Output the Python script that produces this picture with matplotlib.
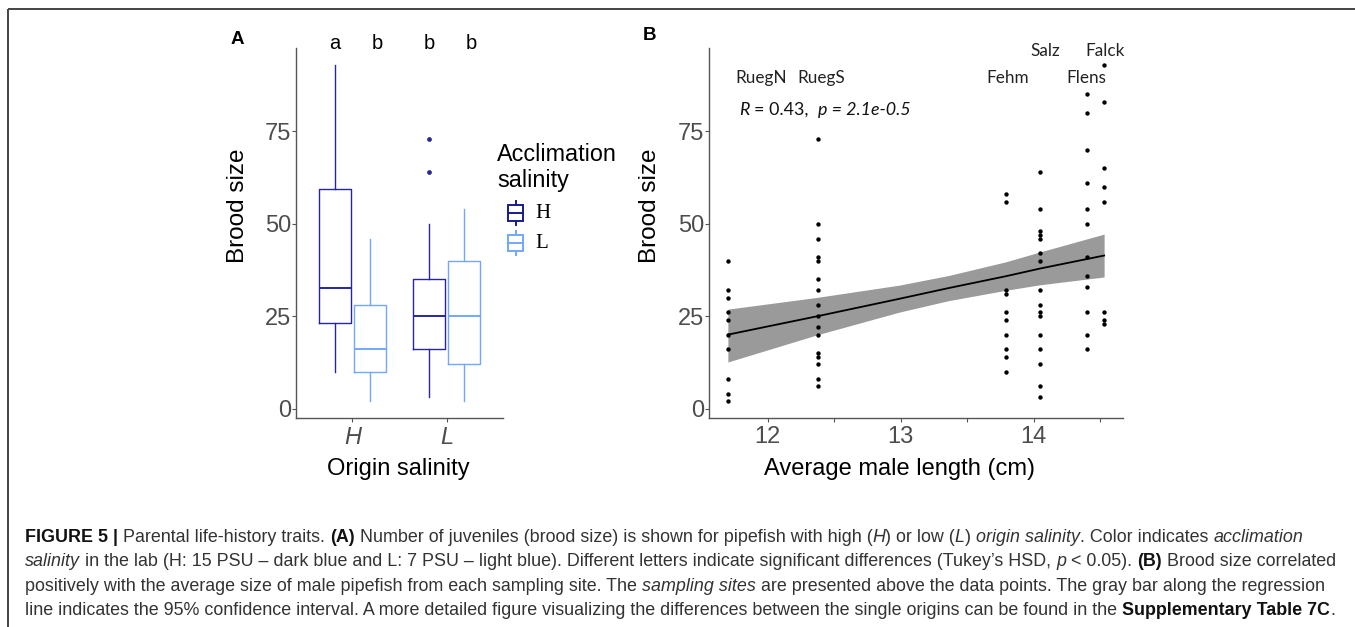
import numpy as np
import matplotlib
matplotlib.use("Agg")
import matplotlib.pyplot as plt
from matplotlib.font_manager import FontProperties

# ---------------- data ----------------
# Panel A: box statistics, order (origin, acclimation): (H,H), (H,L), (L,H), (L,L)
origin_levels = ["H", "L"]
acclim_levels = ["H", "L"]
box_q1 = [23.2, 10.0, 16.0, 12.0]
box_med = [32.6, 16.0, 25.0, 25.0]
box_q3 = [59.4, 28.0, 35.0, 40.0]
box_whislo = [10.0, 2.0, 3.0, 2.0]
box_whishi = [93.0, 46.0, 50.0, 54.0]
box_fliers = [[], [], [73.0, 64.0], []]
tukey_letters = ["a", "b", "b", "b"]

# Panel B: brood size per site vs. average male length
sites = ["RuegN", "RuegS", "Fehm", "Salz", "Flens", "Falck"]
site_length = [11.70, 12.375, 13.79, 14.05, 14.40, 14.53]
brood_ruegn = [40, 32, 30, 26, 24, 20, 16, 8, 4, 2]
brood_ruegs = [73, 50, 46, 41, 40, 35, 32, 28, 25, 22, 20, 15, 14, 12, 8, 6]
brood_fehm = [58, 56, 32, 31, 26, 24, 20, 16, 14, 10]
brood_salz = [64, 54, 48, 47, 46, 42, 40, 32, 28, 26, 25, 20, 16, 12, 6, 3]
brood_flens = [85, 80, 70, 61, 54, 50, 41, 36, 33, 26, 20, 16]
brood_falck = [93, 83, 65, 60, 56, 26, 24, 23]
# regression line and 95% CI
fit_x = [11.70, 12.375, 12.99, 13.36, 13.79, 14.05, 14.53]
fit_y = [20.0, 25.0, 29.7, 32.6, 35.8, 37.9, 41.4]
fit_lo = [12.6, 20.0, 26.1, 29.2, 32.0, 33.5, 35.6]
fit_hi = [26.9, 30.1, 33.4, 36.0, 39.7, 42.4, 47.2]
stat_R = "0.43"
stat_p = "2.1e-0.5"

caption_lines = [
    [("FIGURE 5 | ", "b"), ("Parental life-history traits. ", "r"), ("(A)", "b"),
     (" Number of juveniles (brood size) is shown for pipefish with high (", "r"), ("H", "i"),
     (") or low (", "r"), ("L", "i"), (") ", "r"), ("origin salinity", "i"),
     (". Color indicates ", "r"), ("acclimation", "i")],
    [("salinity", "i"),
     (" in the lab (H: 15 PSU \u2013 dark blue and L: 7 PSU \u2013 light blue). Different letters indicate "
      "significant differences (Tukey\u2019s HSD, ", "r"), ("p", "i"), (" < 0.05). ", "r"), ("(B)", "b"),
     (" Brood size correlated", "r")],
    [("positively with the average size of male pipefish from each sampling site. The ", "r"),
     ("sampling sites", "i"), (" are presented above the data points. The gray bar along the regression", "r")],
    [("line indicates the 95% confidence interval. A more detailed figure visualizing the differences "
      "between the single origins can be found in the ", "r"), ("Supplementary Table 7C", "b"), (".", "r")],
]

# ---------------- style ----------------
W, H = 1355, 627
SANS = ["Liberation Sans", "DejaVu Sans"]
DARK = "#2626a0"
LIGHT = "#72a8fb"
AXC = "#555555"
TICKC = "#4d4d4d"

plt.rcParams["font.family"] = SANS

fig = plt.figure(figsize=(W / 100, H / 100), dpi=100)
fig.patch.set_facecolor("white")


def px_axes(l, t, r, b):
    return fig.add_axes([l / W, 1 - b / H, (r - l) / W, (b - t) / H])


axA = px_axes(296, 48, 503, 418)
axB = px_axes(709, 48, 1123, 418)
ov = fig.add_axes([0, 0, 1, 1], zorder=10)
ov.set_xlim(0, W)
ov.set_ylim(H, 0)
ov.axis("off")
ov.patch.set_visible(False)

for ax in (axA, axB):
    ax.patch.set_visible(False)
    for s in ("top", "right"):
        ax.spines[s].set_visible(False)
    for s in ("left", "bottom"):
        ax.spines[s].set_color(AXC)
        ax.spines[s].set_linewidth(1.0)
    ax.tick_params(axis="both", which="both", color=AXC, length=3, width=0.8,
                   labelcolor=TICKC, labelsize=17)
    ax.tick_params(axis="y", pad=0.5)
    ax.tick_params(axis="x", pad=3)
    ax.set_ylim(-2.55, 97.55)
    ax.set_yticks([0, 25, 50, 75])

# ---------------- Panel A ----------------
dodge = 0.19
positions = [1 - dodge, 1 + dodge, 2 - dodge, 2 + dodge]
letter_x = [0.816, 1.266, 1.819, 2.266]
cols = [DARK, LIGHT, DARK, LIGHT]
for i in range(4):
    st = dict(med=box_med[i], q1=box_q1[i], q3=box_q3[i], whislo=box_whislo[i],
              whishi=box_whishi[i], fliers=box_fliers[i])
    c = cols[i]
    axA.bxp([st], positions=[positions[i]], widths=0.34, showcaps=False, manage_ticks=False,
            boxprops=dict(color=c, lw=1.0), medianprops=dict(color=c, lw=1.4),
            whiskerprops=dict(color=c, lw=1.0),
            flierprops=dict(marker="o", markersize=2.4, markerfacecolor=c, markeredgecolor=c))
    axA.text(letter_x[i], 97.2, tukey_letters[i], ha="center", va="baseline",
             fontsize=14.5, color="black", clip_on=False)
axA.set_xlim(0.4, 2.6)
axA.set_xticks([1, 2])
axA.set_xticklabels(origin_levels, fontstyle="italic")

# ---------------- Panel B ----------------
groups = [brood_ruegn, brood_ruegs, brood_fehm, brood_salz, brood_flens, brood_falck]
xs_all = np.concatenate([np.full(len(g), site_length[k]) for k, g in enumerate(groups)])
ys_all = np.concatenate([np.asarray(g, float) for g in groups])

axB.fill_between(fit_x, fit_lo, fit_hi, color="#9a9a9a", lw=0, zorder=2)
axB.plot(fit_x, fit_y, color="black", lw=1.3, zorder=4)
axB.scatter(xs_all, ys_all, s=10, color="black", lw=0, zorder=3)

axB.set_xlim(11.558, 14.672)
axB.set_xticks([12, 13, 14])
axB.set_xticks([12.5, 13.5, 14.5], minor=True)

renderer = fig.canvas.get_renderer()


def text_w(s, fp):
    w1 = renderer.get_text_width_height_descent("|" + s + "|", fp, ismath=False)[0]
    w0 = renderer.get_text_width_height_descent("||", fp, ismath=False)[0]
    return w1 - w0


def fprop(family, size, st):
    return FontProperties(family=family, size=size,
                          weight="bold" if st == "b" else "normal",
                          style="italic" if st == "i" else "normal")


def rich_width(segs, family, size):
    return sum(text_w(s, fprop(family, size, st)) for s, st in segs)


def draw_rich(x, y, segs, family, size, color, bold_color=None):
    for s, st in segs:
        fp = fprop(family, size, st)
        lead = len(s) - len(s.lstrip(" "))
        core = s.strip(" ")
        xl = x + (text_w(" " * lead, fp) if lead else 0)
        if core:
            ov.text(xl, y, core, fontproperties=fp, va="baseline", ha="left",
                    color=(bold_color if (st == "b" and bold_color) else color))
        x += text_w(s, fp)
    return x


# site labels (Calibri-like)
SITEF = ["Lato", "DejaVu Sans"]
site_size = 10 * 51 / text_w("RuegN", FontProperties(family=SITEF, size=10))
site_label_pos = [(11.95, 89.5), (12.405, 89.5), (13.806, 89.5), (14.09, 96.8), (14.398, 89.5), (14.54, 96.8)]
for name, (lx, ly) in zip(sites, site_label_pos):
    axB.text(lx, ly, name, ha="center", va="center", fontsize=site_size,
             family=SITEF, color="#222222", clip_on=False)

stat_segs = [("R", "i"), (" = " + stat_R + ",  ", "r"), ("p = " + stat_p, "i")]
stat_size = 10 * 170 / rich_width(stat_segs, SITEF, 10)
draw_rich(739, 115, stat_segs, SITEF, stat_size, "#111111")

# axis titles
ov.text(238, 206, "Brood size", rotation=90, ha="center", va="center", fontsize=17.5, color="black")
ov.text(650, 206, "Brood size", rotation=90, ha="center", va="center", fontsize=17.5, color="black")
ov.text(398, 475, "Origin salinity", ha="center", va="baseline", fontsize=17, color="black")
ov.text(899.5, 475, "Average male length (cm)", ha="center", va="baseline", fontsize=17, color="black")

# panel letters
ov.text(237, 40, "A", ha="center", va="center", fontsize=13.5, fontweight="bold", color="black")
ov.text(649, 36, "B", ha="center", va="center", fontsize=13.5, fontweight="bold", color="black")

# legend
ov.text(497, 143, "Acclimation\nsalinity", ha="left", va="top", fontsize=16.8,
        linespacing=1.16, color="black")
for lab, c, cy in zip(acclim_levels, ["#1a1a8c", LIGHT], [213, 243]):
    ov.add_patch(plt.Rectangle((508, cy - 8), 15, 16, fill=False, edgecolor=c, lw=1.4))
    ov.plot([508, 523], [cy, cy], color=c, lw=1.4)
    ov.plot([515.5, 515.5], [cy - 12, cy - 8], color=c, lw=1.4)
    ov.plot([515.5, 515.5], [cy + 8, cy + 12], color=c, lw=1.4)
    ov.text(535, cy + 1, lab, ha="left", va="center", fontsize=15,
            family=["Liberation Serif", "DejaVu Serif"], color="black")

# frame
ov.plot([8, W], [9, 9], color="#444444", lw=1.4, solid_capstyle="butt")
ov.plot([8, 8], [9, H], color="#444444", lw=1.4, solid_capstyle="butt")

# caption
CAPF = ["Liberation Sans", "DejaVu Sans"]
cap_size = 10 * 1313 / rich_width(caption_lines[3], CAPF, 10)
for i, segs in enumerate(caption_lines):
    draw_rich(25, 542 + 24.3 * i, segs, CAPF, cap_size, "#333333", bold_color="#111111")

fig.savefig("out.png", dpi=100, facecolor="white")
